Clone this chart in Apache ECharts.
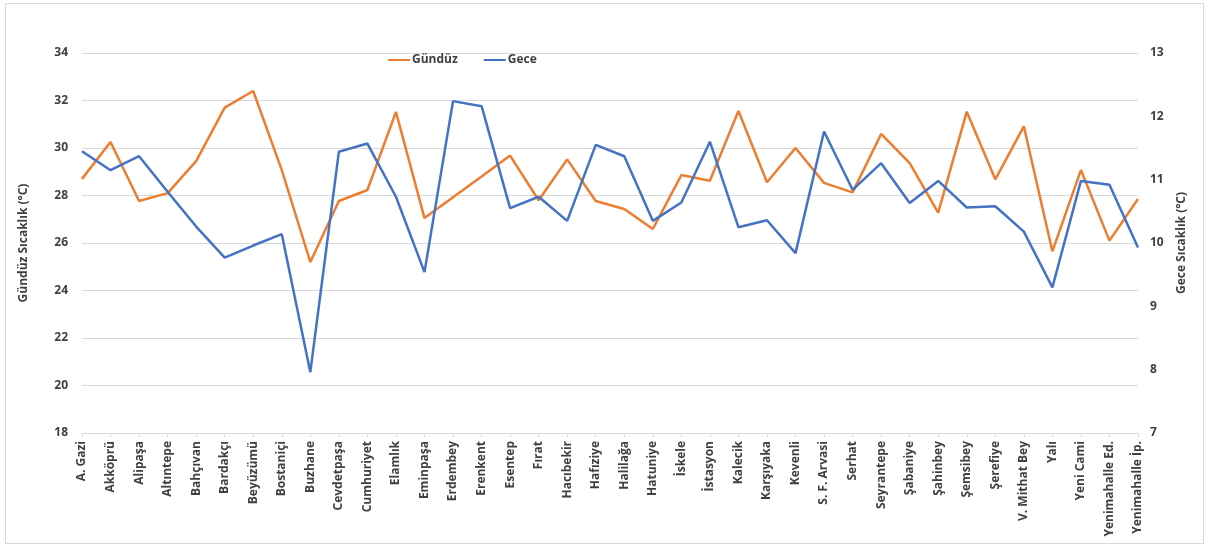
<!DOCTYPE html>
<html>
<head>
<meta charset="utf-8">
<script src="https://cdn.jsdelivr.net/npm/echarts@6/dist/echarts.min.js"></script>
<style>
html,body{margin:0;padding:0;background:#fff;}
#frame{position:absolute;left:5px;top:3px;width:1199px;height:541px;border:1px solid #d9d9d9;box-sizing:border-box;}
#chart{position:absolute;left:0;top:0;width:1212px;height:551px;}
</style>
</head>
<body>
<div id="frame"></div>
<div id="chart"></div>
<script>
const categories = ["A. Gazi","Akköprü","Alipaşa","Altıntepe","Bahçıvan","Bardakçı","Beyüzümü","Bostaniçi","Buzhane","Cevdetpaşa","Cumhuriyet","Elamlık","Eminpaşa","Erdembey","Erenkent","Esentep","Fırat","Hacıbekir","Hafıziye","Halilağa","Hatuniye","İskele","İstasyon","Kalecik","Karşıyaka","Kevenli","S. F. Arvasi","Serhat","Seyrantepe","Şabaniye","Şahinbey","Şemsibey","Şerefiye","V. Mithat Bey","Yalı","Yeni Cami","Yenimahalle Ed.","Yenimahalle İp."];
const gunduz = [28.7,30.25,27.77,28.1,29.45,31.7,32.4,29.07,25.2,27.77,28.23,31.52,27.05,27.93,28.8,29.68,27.8,29.52,27.77,27.43,26.59,28.86,28.62,31.56,28.56,30.0,28.53,28.13,30.59,29.36,27.28,31.53,28.68,30.91,25.65,29.07,26.1,27.85];
const gece = [11.45,11.15,11.37,10.81,10.26,9.77,9.96,10.14,7.96,11.44,11.57,10.73,9.54,12.24,12.16,10.55,10.73,10.35,11.55,11.37,10.35,10.64,11.6,10.25,10.36,9.84,11.76,10.84,11.26,10.63,10.98,10.56,10.58,10.18,9.3,10.98,10.92,9.93];
const seriesNames = ["Gündüz","Gece"];
const leftAxisName = "Gündüz Sıcaklık (°C)";
const rightAxisName = "Gece Sıcaklık (°C)";

const txt = '#404040';
const font = 'Open Sans';
const chart = echarts.init(document.getElementById('chart'));
chart.setOption({
  animation:false,
  textStyle:{fontFamily:font},
  legend:{
    left:383, top:49, itemGap:26, itemWidth:22, itemHeight:2,
    icon:'rect',
    textStyle:{color:txt,fontSize:12,fontWeight:'bold',fontFamily:font,padding:[0,0,0,-3]},
    data:seriesNames
  },
  grid:{left:82,right:74,top:53,bottom:118},
  xAxis:{
    type:'category', data:categories, boundaryGap:false,
    axisLine:{lineStyle:{color:'#d9d9d9'}},
    axisTick:{show:true,alignWithLabel:true,length:4,lineStyle:{color:'#d9d9d9'}},
    axisLabel:{rotate:90,interval:0,color:txt,fontSize:12,fontWeight:'bold',fontFamily:font,margin:8}
  },
  yAxis:[{
    type:'value', min:18, max:34, interval:2, position:'left',
    name:leftAxisName, nameLocation:'middle', nameGap:52, nameRotate:90,
    nameTextStyle:{color:txt,fontSize:12,fontWeight:'bold',fontFamily:font},
    axisLine:{show:false}, axisTick:{show:false},
    axisLabel:{color:txt,fontSize:12,fontWeight:'bold',fontFamily:font,margin:14},
    splitLine:{lineStyle:{color:'#d9d9d9',width:1}}
  },{
    type:'value', min:7, max:13, interval:1, position:'right',
    name:rightAxisName, nameLocation:'middle', nameGap:38, nameRotate:90,
    nameTextStyle:{color:txt,fontSize:12,fontWeight:'bold',fontFamily:font},
    axisLine:{show:false}, axisTick:{show:false},
    axisLabel:{color:txt,fontSize:12,fontWeight:'bold',fontFamily:font,margin:12},
    splitLine:{show:false}
  }],
  series:[{
    name:seriesNames[0], type:'line', yAxisIndex:0, data:gunduz,
    showSymbol:false, symbol:'none',
    lineStyle:{color:'#ED7D31',width:2.5}, itemStyle:{color:'#ED7D31'}
  },{
    name:seriesNames[1], type:'line', yAxisIndex:1, data:gece,
    showSymbol:false, symbol:'none',
    lineStyle:{color:'#4472C4',width:2.5}, itemStyle:{color:'#4472C4'}
  }]
});
</script>
</body>
</html>
